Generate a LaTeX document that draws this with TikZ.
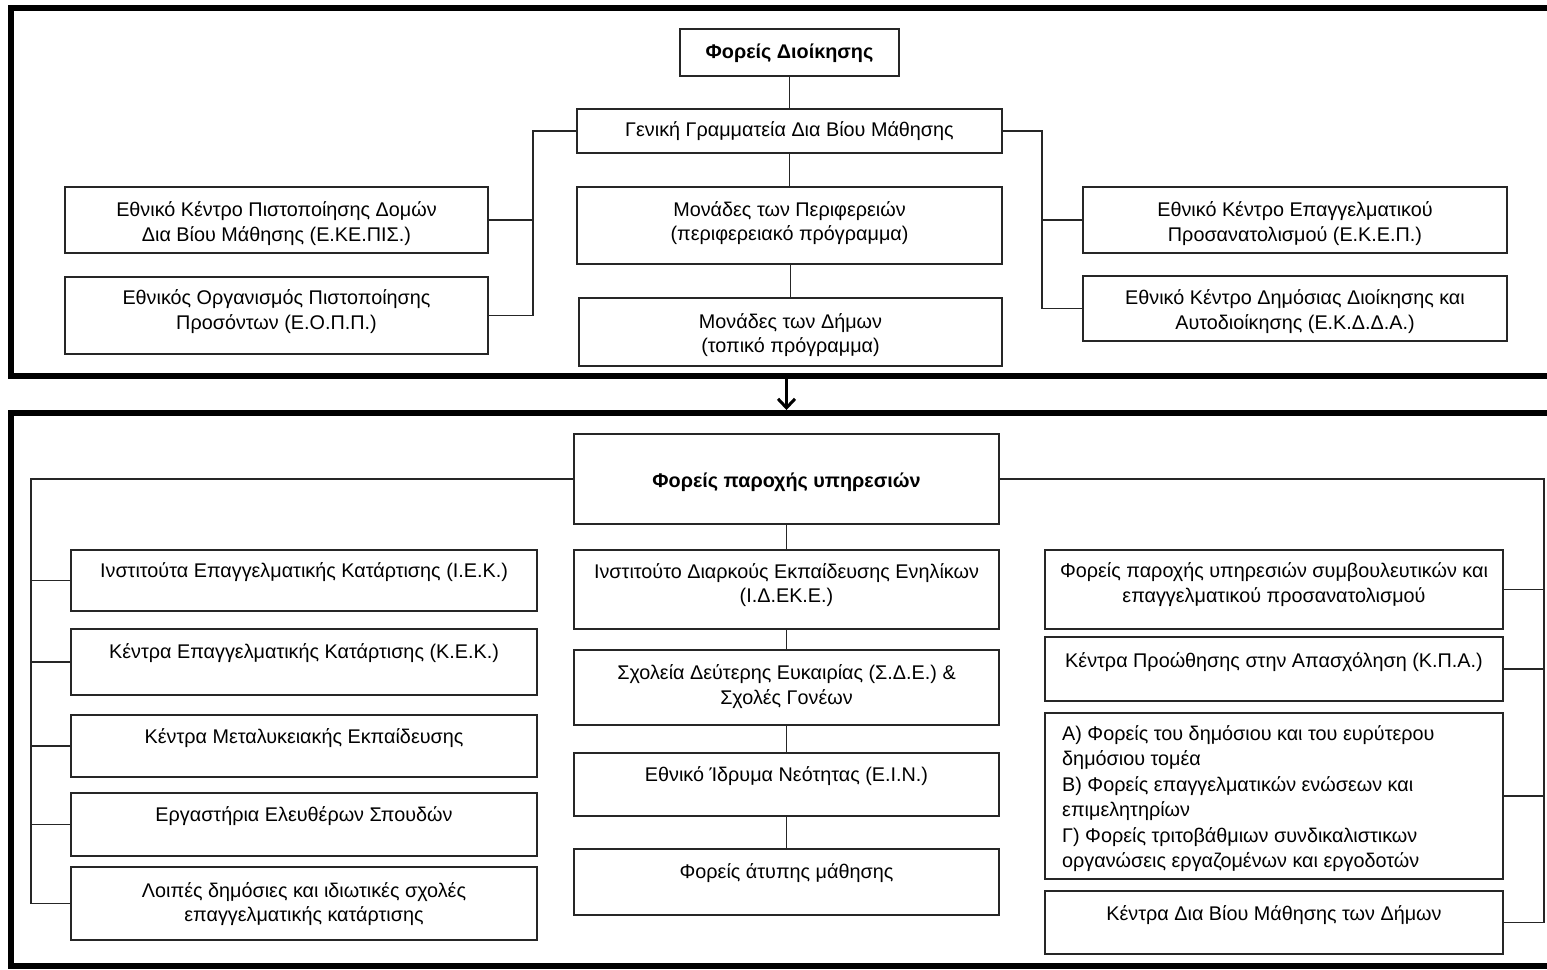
\documentclass[tikz,border=0pt]{standalone}
\usepackage{fontspec}
\setmainfont{Liberation Sans}
\usetikzlibrary{arrows.meta}
\tikzset{
  box/.style={draw=black!85, line width=1.8pt, rectangle, inner sep=0pt, outer sep=0pt},
  frame/.style={draw=black, line width=6pt, rectangle, inner sep=0pt, outer sep=0pt},
  txt/.style={inner sep=0pt, align=center, text=black, font=\fontsize{19.8}{24.5}\selectfont},
  btxt/.style={txt, font=\fontsize{19.8}{24.5}\selectfont\bfseries},
  conn/.style={draw=black!85, line width=1.8pt},
  arr/.style={draw=black, line width=3pt, -{Straight Barb[length=9pt,width=17pt,line width=3pt]}}
}
\newcommand\bx[5]{\node[box, minimum width={#4-#2}, minimum height={#5-#3}] (#1) at ({(#2+#4)/2},{(#3+#5)/2}) {};}
\newcommand\tx[4]{\node[txt] (#1) at (#2,#3) {#4};}
\begin{document}
\begin{tikzpicture}[x=1pt,y=-1pt]
\clip (0,0) rectangle (1547,969);
\useasboundingbox (0,0) rectangle (1547,969);
\fill[white] (0,0) rectangle (1547,969);
% frames
\node[frame, anchor=north west, minimum width=1560, minimum height=368.5] (topframe) at (11,7.5) {};
\node[frame, anchor=north west, minimum width=1560, minimum height=553] (botframe) at (11,413) {};
% top panel boxes
\bx{title}{680}{29}{899}{76}
\bx{gen}{577}{109}{1002}{153}
\bx{periph}{577}{187}{1002}{264}
\bx{dimon}{579}{298}{1002}{366}
\bx{ekepis}{65}{187}{488}{253}
\bx{eopp}{65}{277}{488}{354}
\bx{ekep}{1083}{187}{1507}{253}
\bx{ekdda}{1083}{276}{1507}{341}
\node[btxt] (titlet) at (789.5,53) {Φορείς Διοίκησης};
\tx{gent}{789.5}{131}{Γενική Γραμματεία Δια Βίου Μάθησης}
\tx{periphat}{789.5}{223}{Μονάδες των Περιφερειών\\(περιφερειακό πρόγραμμα)}
\tx{dimont}{790.5}{335}{Μονάδες των Δήμων\\(τοπικό πρόγραμμα)}
\tx{ekepist}{276.5}{223.5}{Εθνικό Κέντρο Πιστοποίησης Δομών\\Δια Βίου Μάθησης (Ε.ΚΕ.ΠΙΣ.)}
\tx{eoppt}{276.5}{311.5}{Εθνικός Οργανισμός Πιστοποίησης\\Προσόντων (Ε.Ο.Π.Π.)}
\tx{ekept}{1295}{223.5}{Εθνικό Κέντρο Επαγγελματικού\\Προσανατολισμού (Ε.Κ.Ε.Π.)}
\tx{ekddat}{1295}{311.5}{Εθνικό Κέντρο Δημόσιας Διοίκησης και\\Αυτοδιοίκησης (Ε.Κ.Δ.Δ.Α.)}
% top connectors
\coordinate (jl) at (533,131);
\coordinate (jr) at (1042,131);
\draw[conn] (title.south) -- (gen.north);
\draw[conn] (gen.south) -- (periph.north);
\draw[conn] (periph.south -| dimon.north) -- (dimon.north);
\draw[conn] (gen.west) -- (jl) |- (eopp.east);
\draw[conn] (ekepis.east) -- (ekepis.east -| jl);
\draw[conn] (gen.east) -- (jr) |- (ekdda.west);
\draw[conn] (ekep.west) -- (ekep.west -| jr);
% bottom panel boxes
\bx{pbold}{574}{434}{999}{524}
\bx{m1}{574}{550}{999}{629}
\bx{m2}{574}{650}{999}{725}
\bx{m3}{574}{753}{999}{816}
\bx{m4}{574}{849}{999}{915}
\bx{lb1}{71}{550}{537}{611}
\bx{lb2}{71}{629}{537}{695}
\bx{lb3}{71}{715}{537}{777}
\bx{lb4}{71}{793}{537}{856}
\bx{lb5}{71}{867}{537}{940}
\bx{rb1}{1045}{550}{1503}{629}
\bx{rb2}{1045}{637}{1503}{701}
\bx{rb3}{1045}{713}{1503}{879}
\bx{rb4}{1045}{891}{1503}{954}
\node[btxt] (pboldt) at (786.5,482) {Φορείς παροχής υπηρεσιών};
\tx{m1t}{786.5}{585}{Ινστιτούτο Διαρκούς Εκπαίδευσης Ενηλίκων\\(Ι.Δ.ΕΚ.Ε.)}
\tx{m2t}{786.5}{686.5}{Σχολεία Δεύτερης Ευκαιρίας (Σ.Δ.Ε.) \&\\Σχολές Γονέων}
\tx{m3t}{786.5}{776}{Εθνικό Ίδρυμα Νεότητας (Ε.Ι.Ν.)}
\tx{m4t}{786.5}{873}{Φορείς άτυπης μάθησης}
\tx{lb1t}{304}{572}{Ινστιτούτα Επαγγελματικής Κατάρτισης (Ι.Ε.Κ.)}
\tx{lb2t}{304}{653}{Κέντρα Επαγγελματικής Κατάρτισης (Κ.Ε.Κ.)}
\tx{lb3t}{304}{738}{Κέντρα Μεταλυκειακής Εκπαίδευσης}
\tx{lb4t}{304}{816}{Εργαστήρια Ελευθέρων Σπουδών}
\tx{lb5t}{304}{904}{Λοιπές δημόσιες και ιδιωτικές σχολές\\επαγγελματικής κατάρτισης}
\tx{rb1t}{1274}{584.5}{Φορείς παροχής υπηρεσιών συμβουλευτικών και\\επαγγελματικού προσανατολισμού}
\tx{rb2t}{1274}{662}{Κέντρα Προώθησης στην Απασχόληση (Κ.Π.Α.)}
\node[txt, align=left, anchor=west, font=\fontsize{19.8}{25.4}\selectfont] (rb3t) at (1062,798.5) {Α) Φορείς του δημόσιου και του ευρύτερου\\δημόσιου τομέα\\Β) Φορείς επαγγελματικών ενώσεων και\\επιμελητηρίων\\Γ) Φορείς τριτοβάθμιων συνδικαλιστικων\\οργανώσεις εργαζομένων και εργοδοτών};
\tx{rb4t}{1274}{915}{Κέντρα Δια Βίου Μάθησης των Δήμων}
% bottom connectors
\coordinate (jbl) at (31,479);
\coordinate (jbr) at (1544,479);
\draw[conn] (pbold.south) -- (m1.north);
\draw[conn] (m1.south) -- (m2.north);
\draw[conn] (m2.south) -- (m3.north);
\draw[conn] (m3.south) -- (m4.north);
\draw[conn] (pbold.west) -- (jbl) |- (lb5.west);
\foreach \b in {lb1,lb2,lb3,lb4} \draw[conn] (\b.west) -- (\b.west -| jbl);
\draw[conn] (pbold.east) -- (jbr) |- (rb4.east);
\foreach \b in {rb1,rb2,rb3} \draw[conn] (\b.east) -- (\b.east -| jbr);
% arrow between panels
\draw[arr, shorten <=3pt, shorten >=3pt] (topframe.south -| pbold.north) -- (botframe.north -| pbold.north);
\end{tikzpicture}
\end{document}
